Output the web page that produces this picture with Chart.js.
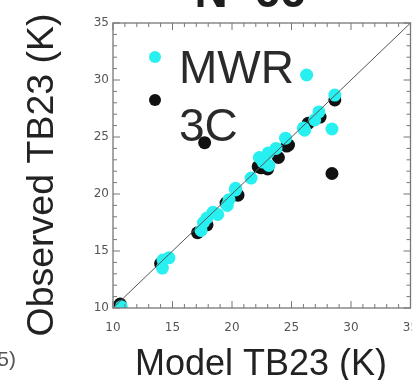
<!DOCTYPE html>
<html>
<head>
<meta charset="utf-8">
<script src="https://cdn.jsdelivr.net/npm/chart.js@4"></script>
<style>
    html, body { margin: 0; padding: 0; background: #fff; overflow: hidden; }
    #tbChart { display: block; }
</style>
</head>
<body>
<canvas id="tbChart" width="417" height="380"></canvas>
<script>
"use strict";

// model vs observed TB23 (K)
let mwrModel = [10.7, 14.15, 14.2, 14.7, 17.4, 17.6, 17.9, 18.4, 18.8, 19.6, 19.75, 20.3, 20.3, 21.6, 22.3, 23.05, 23.7, 23.1, 22.6, 24.5, 26.0, 26.95, 27.3, 28.64, 26.27, 28.4, 26.1];
let mwrObs = [10.1, 13.5, 14.2, 14.4, 16.8, 17.5, 17.9, 18.4, 18.2, 19.0, 19.5, 20.35, 20.5, 21.4, 23.2, 23.6, 24.0, 22.5, 22.8, 24.9, 25.8, 26.5, 27.2, 28.68, 30.44, 25.7, 25.6];
let c3Model = [10.6, 14.0, 17.1, 17.9, 19.5, 20.5, 22.2, 22.45, 23.0, 23.9, 24.6, 24.75, 26.4, 27.4, 28.64, 17.7, 28.4];
let c3Obs = [10.35, 13.9, 16.6, 17.3, 19.2, 19.9, 22.4, 22.3, 22.2, 23.2, 24.2, 24.3, 26.2, 26.75, 28.25, 24.5, 21.8];
let oneToOne = [10, 35];
let axisTicks = [10, 15, 20, 25, 30, 35];

let seriesNames = ["MWR", "3C"];
let seriesColors = ["rgb(40, 240, 240)", "#111111"];

function toPoints(xs, ys) {
    return xs.map(function (v, i) {
        return {x: v, y: ys[i]};
    });
}

// box, inward ticks, titles, legend
let decorPlugin = {
    id: "decor",
    afterDatasetsDraw: function (chart) {
        let ctx = chart.ctx;
        let a = chart.chartArea;
        let sx = chart.scales.x;
        let sy = chart.scales.y;

        ctx.save();
        ctx.strokeStyle = "#777";
        ctx.lineWidth = 1.3;
        ctx.strokeRect(a.left, a.top, a.right - a.left, a.bottom - a.top);

        ctx.lineWidth = 1;
        for (let v = 10; v <= 35; v++) {
            let len = (v % 5 === 0) ? 7 : 4;
            let px = sx.getPixelForValue(v);
            let py = sy.getPixelForValue(v);
            ctx.beginPath();
            ctx.moveTo(px, a.bottom); ctx.lineTo(px, a.bottom - len);
            ctx.moveTo(px, a.top); ctx.lineTo(px, a.top + len);
            ctx.moveTo(a.left, py); ctx.lineTo(a.left + len, py);
            ctx.moveTo(a.right, py); ctx.lineTo(a.right - len, py);
            ctx.stroke();
        }

        // legend
        let lx = 155;
        seriesNames.forEach(function (name, i) {
            let ly = [57, 100][i];
            ctx.fillStyle = seriesColors[i];
            ctx.beginPath();
            ctx.arc(lx, ly, 6, 0, Math.PI * 2);
            ctx.fill();
            ctx.fillStyle = "#2a2a2a";
            ctx.font = "46px 'Liberation Sans', Arial, sans-serif";
            ctx.textAlign = "left";
            ctx.textBaseline = "alphabetic";
            ctx.fillText(name, 179, [83, 141][i]);
        });

        // title, cut by the top edge
        ctx.fillStyle = "#1e1e1e";
        ctx.font = "bold 46px 'Liberation Sans', Arial, sans-serif";
        ctx.textAlign = "center";
        ctx.fillText("N=66", 250, 7);

        // axis titles
        ctx.font = "36px 'Liberation Sans', Arial, sans-serif";
        ctx.fillStyle = "#222";
        ctx.fillText("Model TB23 (K)", 261, 375);

        ctx.font = "37.5px 'Liberation Sans', Arial, sans-serif";
        ctx.translate(53, 175);
        ctx.rotate(-Math.PI / 2);
        ctx.fillText("Observed TB23 (K)", 0, 0);
        ctx.restore();

        // piece of the next panel's label
        ctx.save();
        ctx.fillStyle = "#555";
        ctx.font = "21px 'Liberation Sans', Arial, sans-serif";
        ctx.textAlign = "right";
        ctx.fillText("(2005)", 16, 366);
        ctx.restore();
    }
};

function fixX(scale) {
    scale.height = 72;
    scale.paddingLeft = 0;
    scale.paddingRight = 0;
}

function fixY(scale) {
    scale.width = 113;
    scale.paddingTop = 0;
    scale.paddingBottom = 0;
}

let tickFont = {family: "'DejaVu Sans', sans-serif", size: 12};

let scatterData = {
    datasets: [{
        type: "line",
        label: "1:1",
        data: toPoints(oneToOne, oneToOne),
        borderColor: "#555",
        borderWidth: 1,
        pointRadius: 0
    }, {
        label: seriesNames[0],
        data: toPoints(mwrModel, mwrObs),
        backgroundColor: seriesColors[0],
        borderWidth: 0,
        pointRadius: 6.5
    }, {
        label: seriesNames[1],
        data: toPoints(c3Model, c3Obs),
        backgroundColor: seriesColors[1],
        borderWidth: 0,
        pointRadius: 6.5
    }]
};

let scatterOptions = {
    responsive: false,
    animation: false,
    layout: {padding: {top: 23, right: 0, left: 0, bottom: 0}},
    plugins: {
        legend: {display: false},
        tooltip: {enabled: false}
    },
    scales: {
        x: {
            type: "linear",
            min: 10,
            max: 35,
            afterFit: fixX,
            afterBuildTicks: function (scale) {
                scale.ticks = axisTicks.map(function (v) { return {value: v}; });
            },
            grid: {display: false, drawTicks: false},
            border: {display: false},
            ticks: {color: "#555", font: tickFont, padding: 13, maxRotation: 0}
        },
        y: {
            type: "linear",
            min: 10,
            max: 35,
            afterFit: fixY,
            afterBuildTicks: function (scale) {
                scale.ticks = axisTicks.map(function (v) { return {value: v}; });
            },
            grid: {display: false, drawTicks: false},
            border: {display: false},
            ticks: {color: "#555", font: tickFont, padding: 4}
        }
    }
};

let tbCanvas = document.getElementById("tbChart").getContext("2d");
let tbChart = new Chart(tbCanvas, {
    type: "scatter",
    data: scatterData,
    options: scatterOptions,
    plugins: [decorPlugin]
});
</script>
</body>
</html>
